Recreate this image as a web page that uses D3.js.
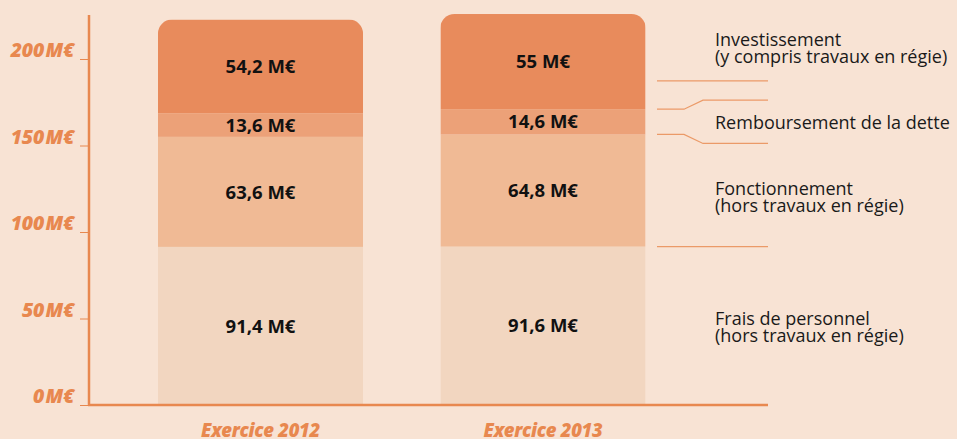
<!DOCTYPE html>
<html lang="fr">
	<head>
		<meta charset="utf-8">
		<title>Dépenses par exercice</title>
		<script type="text/javascript" src="https://d3js.org/d3.v7.min.js"></script>
		<style type="text/css">
			body { margin: 0; background: #f8e3d4; }
			svg { display: block; }
		</style>
	</head>
	<body>

		<div id="chart"></div>

		<script type="text/javascript">

    // data (M€)
    var years = ["Exercice 2012", "Exercice 2013"];
    var series = ["Frais de personnel", "Fonctionnement", "Remboursement de la dette", "Investissement"];
    var personnel = [91.4, 91.6];
    var fonctionnement = [63.6, 64.8];
    var remboursement = [13.6, 14.6];
    var investissement = [54.2, 55];
    var valueLabels = [["91,4 M€", "63,6 M€", "13,6 M€", "54,2 M€"],
                       ["91,6 M€", "64,8 M€", "14,6 M€", "55 M€"]];
    var tickValues = [0, 50, 100, 150, 200];
    var legendLines = [
        ["Investissement", "(y compris travaux en régie)"],
        ["Remboursement de la dette"],
        ["Fonctionnement", "(hors travaux en régie)"],
        ["Frais de personnel", "(hors travaux en régie)"]
    ];

    var colors = ["#f2d6c0", "#f0ba95", "#eca178", "#e88b5c"];
    var orange = "#e8884f";

    var w = 957;
    var h = 439;

    var table = years.map(function(y, i){
        return {year: y, "Frais de personnel": personnel[i], "Fonctionnement": fonctionnement[i],
                "Remboursement de la dette": remboursement[i], "Investissement": investissement[i], idx: i};
    });
    var stacked = d3.stack().keys(series)(table);

    var svg = d3.select("#chart")
        .append("svg")
        .attr("width", w)
        .attr("height", h);

    svg.append("rect").attr("width", w).attr("height", h).attr("fill", "#f8e3d4");

    var yScale = d3.scaleLinear()
        .domain([0, 200])
        .range([405, 59]);

    var xScale = d3.scaleBand()
        .domain(years)
        .range([119.25, 684.25])
        .paddingInner(0.274)
        .paddingOuter(0.137);

    var clip = svg.append("defs");
    years.forEach(function(y, i){
        var top = yScale(d3.sum(series, function(k){ return table[i][k]; }));
        clip.append("clipPath").attr("id", "clip" + i)
            .append("rect")
            .attr("x", xScale(y))
            .attr("y", top)
            .attr("width", xScale.bandwidth())
            .attr("height", 500)
            .attr("rx", 14);
    });

    var layers = svg.selectAll("g.layer")
        .data(stacked)
        .enter()
        .append("g")
        .attr("class", "layer")
        .attr("fill", function(d, i){ return colors[i]; });

    layers.selectAll("rect")
        .data(function(d){ return d; })
        .enter()
        .append("rect")
        .attr("clip-path", function(d){ return "url(#clip" + d.data.idx + ")"; })
        .attr("x", function(d){ return xScale(d.data.year); })
        .attr("y", function(d){ return yScale(d[1]); })
        .attr("width", xScale.bandwidth())
        .attr("height", function(d){ return yScale(d[0]) - yScale(d[1]); });

    // value labels
    stacked.forEach(function(layer, li){
        layer.forEach(function(d){
            svg.append("text")
                .attr("x", xScale(d.data.year) + xScale.bandwidth() / 2)
                .attr("y", yScale((d[0] + d[1]) / 2))
                .attr("dy", "0.36em")
                .attr("text-anchor", "middle")
                .style("font-family", "'Open Sans', sans-serif")
                .style("font-weight", "bold")
                .style("font-size", "18.5px")
                .style("fill", "#111")
                .text(valueLabels[d.data.idx][li]);
        });
    });

    // y axis
    var yAxis = d3.axisLeft(yScale)
        .tickValues(tickValues)
        .tickSize(9)
        .tickFormat(function(d){ return d + "\u200aM€"; });

    var gy = svg.append("g")
        .attr("transform", "translate(89,0)")
        .call(yAxis);
    gy.select(".domain").remove();
    gy.selectAll(".tick line").attr("stroke", orange).attr("stroke-width", 1);
    gy.selectAll(".tick text")
        .attr("x", -15)
        .attr("dy", "-0.12em")
        .style("font-family", "'Open Sans', sans-serif")
        .style("font-weight", "800")
        .style("font-style", "italic")
        .style("font-size", "19.5px")
        .style("letter-spacing", "-0.3px")
        .style("fill", orange);

    svg.append("line")
        .attr("x1", 89).attr("x2", 89)
        .attr("y1", 15).attr("y2", yScale(0) + 1)
        .attr("stroke", orange).attr("stroke-width", 2.5);

    // x axis
    svg.append("line")
        .attr("x1", 88).attr("x2", 768)
        .attr("y1", yScale(0)).attr("y2", yScale(0))
        .attr("stroke", orange).attr("stroke-width", 2.7);

    svg.selectAll("text.xlab")
        .data(years)
        .enter()
        .append("text")
        .attr("class", "xlab")
        .attr("x", function(d){ return xScale(d) + xScale.bandwidth() / 2; })
        .attr("y", 437)
        .attr("text-anchor", "middle")
        .style("font-family", "'Open Sans', sans-serif")
        .style("font-weight", "800")
        .style("font-style", "italic")
        .style("font-size", "18.5px")
        .style("letter-spacing", "-0.3px")
        .style("fill", orange)
        .text(function(d){ return d; });

    // legend leader lines
    var b2 = stacked.map(function(l){ return l[1]; });
    var lx0 = 657, lx1 = 684, lx2 = 703, lx3 = 768;
    var leaders = [
        [[lx0, yScale(187.3)], [lx3, yScale(187.3)]],
        [[lx0, yScale(b2[2][1])], [lx1, yScale(b2[2][1])], [lx2, yScale(b2[2][1]) - 9], [lx3, yScale(b2[2][1]) - 9]],
        [[lx0, yScale(b2[1][1])], [lx1, yScale(b2[1][1])], [lx2, yScale(b2[1][1]) + 9], [lx3, yScale(b2[1][1]) + 9]],
        [[lx0, yScale(b2[0][1])], [lx3, yScale(b2[0][1])]]
    ];
    svg.selectAll("path.leader")
        .data(leaders)
        .enter()
        .append("path")
        .attr("class", "leader")
        .attr("d", d3.line())
        .attr("fill", "none")
        .attr("stroke", "#eb9a68")
        .attr("stroke-width", 1.2);

    // legend text
    var legendY = [46, 129, 195, 325];
    legendLines.forEach(function(lines, i){
        var t = svg.append("text")
            .attr("x", 715)
            .attr("y", legendY[i])
            .style("font-family", "'Open Sans', sans-serif")
            .style("font-size", "18px")
            .style("fill", "#1a1a1a");
        lines.forEach(function(s, j){
            t.append("tspan").attr("x", 715).attr("dy", j === 0 ? 0 : 17).text(s);
        });
    });

		</script>
	</body>
</html>
